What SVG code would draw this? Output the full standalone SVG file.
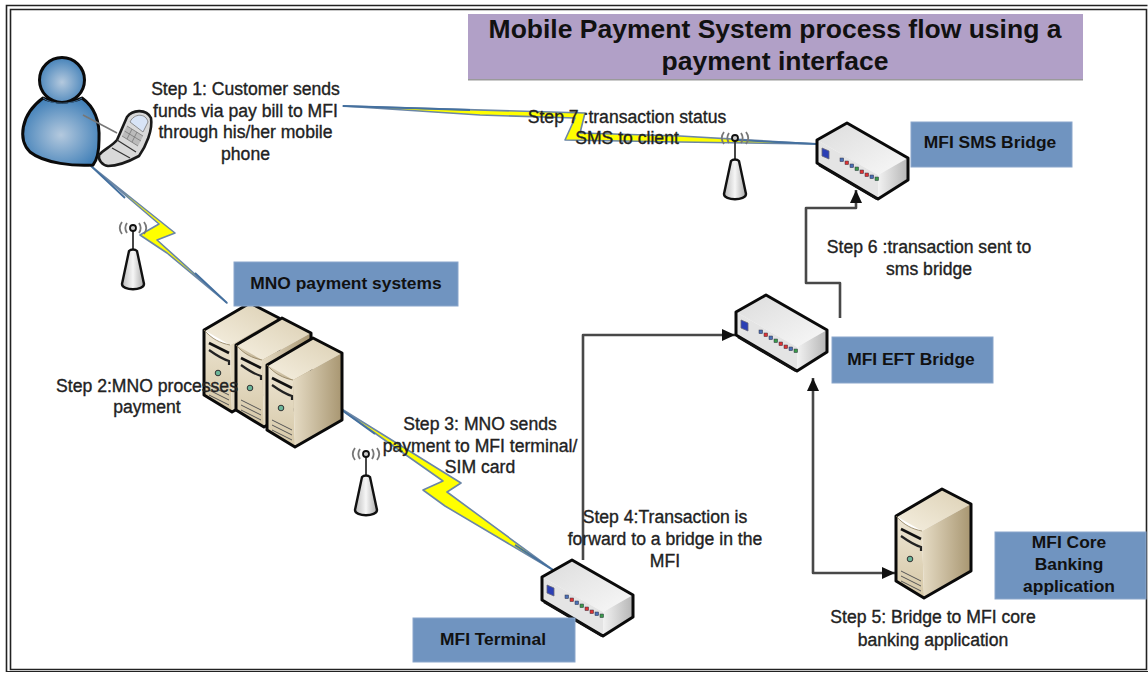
<svg xmlns="http://www.w3.org/2000/svg" width="1148" height="673" viewBox="0 0 1148 673">
<style>
text{font-family:"Liberation Sans",Arial,sans-serif}
.step{font-size:17.6px;fill:#222;text-anchor:middle;stroke:#222;stroke-width:.35}
.lab{font-size:17.4px;font-weight:bold;fill:#111;text-anchor:middle}
.box{fill:#7094c0;stroke:#8aa6cb;stroke-width:1}
.wire{fill:none;stroke:#484848;stroke-width:2.6;stroke-linejoin:round}
.bolt{fill:#ffff00;stroke:#6b86a6;stroke-width:1.6;stroke-linejoin:round}
.ol{stroke:#0a0a0a;stroke-width:3;stroke-linejoin:round}
</style>
<defs>
<marker id="arrow" markerUnits="userSpaceOnUse" markerWidth="14" markerHeight="12" refX="13" refY="6" orient="auto"><path d="M0 0L13 6L0 12Z" fill="#111"/></marker>
<radialGradient id="blueG" cx=".5" cy=".55" r=".6"><stop offset="0" stop-color="#b4c9de"/><stop offset="1" stop-color="#3b7cb6"/></radialGradient>
<linearGradient id="srvFront" x1="0" y1="0" x2="0" y2="1"><stop offset="0" stop-color="#eee6d4"/><stop offset="1" stop-color="#d5c7a6"/></linearGradient>
<linearGradient id="srvSide" x1="0" y1="0" x2="1" y2="0"><stop offset="0" stop-color="#e6dcc5"/><stop offset="1" stop-color="#a89671"/></linearGradient>
<linearGradient id="srvTop" x1="0" y1="1" x2="1" y2="0"><stop offset="0" stop-color="#f5efe0"/><stop offset="1" stop-color="#dcd0b4"/></linearGradient>
<linearGradient id="swTop" x1="0" y1="0" x2="1" y2="1"><stop offset="0" stop-color="#dcdcdc"/><stop offset="1" stop-color="#f8f8f8"/></linearGradient>
<linearGradient id="swSide" x1="0" y1="0" x2="1" y2="0"><stop offset="0" stop-color="#f2f2f2"/><stop offset="1" stop-color="#b5b5b5"/></linearGradient>
<linearGradient id="antG" x1="0" y1="0" x2="1" y2="0"><stop offset="0" stop-color="#bbb"/><stop offset=".5" stop-color="#f6f6f6"/><stop offset="1" stop-color="#aaa"/></linearGradient>
<g id="server">
<path d="M0 27L46 0L75 15L26 42Z" fill="url(#srvTop)"/>
<path d="M0 27C8 36 16 40 26 42L28 109L2 94L0 92Z" fill="url(#srvFront)"/>
<path d="M26 42L75 15L75 82L28 109Z" fill="url(#srvSide)"/>
<path d="M0 27L46 0L75 15L75 82L28 109L0 92Z" fill="none" class="ol"/>
<path d="M0 27C8 36 16 40 26 42" fill="none" stroke="#8a7a58" stroke-width=".8"/>
<path d="M5 40L25 50" stroke="#111" stroke-width="2.6"/>
<path d="M5 47C12 52 18 56 25 58L25 62" fill="none" stroke="#222" stroke-width="2.2"/>
<circle cx="14" cy="70" r="2.8" fill="#6cb69a" stroke="#333" stroke-width="1"/>
<path d="M5 82L25 92M5 87L25 97M5 92L25 102" stroke="#555" stroke-width="1"/>
</g>
<g id="switch">
<path d="M0 17L30 0L91 35L61 52Z" fill="url(#swTop)"/>
<path d="M0 17L61 52L61 76L0 40Z" fill="#e4e4e4"/>
<path d="M61 52L91 35L91 57L61 76Z" fill="url(#swSide)"/>
<path d="M0 17L30 0L91 35L91 57L61 76L0 40Z" fill="none" class="ol"/>
<path d="M2 42L60 76" stroke="#111" stroke-width="2.5"/>
<path d="M5 25L12 28L12 36L5 33Z" fill="#2b3fb5" stroke="#667" stroke-width=".8"/>
<g stroke="#334" stroke-width=".5"><rect x="23" y="35" width="3.6" height="3.6" fill="#4a6fb5"/><rect x="28" y="38" width="3.6" height="3.6" fill="#d33"/><rect x="33" y="41" width="3.6" height="3.6" fill="#4a6fb5"/><rect x="38" y="44" width="3.6" height="3.6" fill="#3b9a4a"/><rect x="43" y="47" width="3.6" height="3.6" fill="#d33"/><rect x="48" y="50" width="3.6" height="3.6" fill="#d33"/><rect x="53" y="52" width="3.6" height="3.6" fill="#4a6fb5"/><rect x="58" y="54" width="3.6" height="3.6" fill="#3b9a4a"/></g>
</g>
<g id="antenna">
<path d="M0 0V24" stroke="#333" stroke-width="1.8"/>
<circle cx="0" cy="0" r="3" fill="#ccc" stroke="#111" stroke-width="1.8"/>
<path d="M-6 -5C-8 -2 -8 2 -6 5M6 -5C8 -2 8 2 6 5M-11 -6C-14 -2 -14 2 -11 6M11 -6C14 -2 14 2 11 6" fill="none" stroke="#777" stroke-width="1.8"/>
<path d="M-4 23C-2 21 2 21 4 23L11 56C11 63 -11 63 -11 56Z" fill="url(#antG)" stroke="#111" stroke-width="2.4"/>
</g>
</defs>
<rect width="1148" height="673" fill="#fff"/>
<g id="frame" fill="none" stroke="#222">
<path d="M6.5 672V5.5H1147.5" stroke-width="1.6"/>
<path d="M10.5 669.5V9.5H1146.5V669.5Z" stroke-width="1.6"/>
<path d="M6 671.5H1148" stroke-width="1"/>
</g>
<g id="title"><rect x="468" y="14" width="615" height="66" fill="#b1a0c7"/><rect x="468" y="79" width="615" height="1.5" fill="#9a9a9a"/>
<text x="775" y="38" text-anchor="middle" font-size="26.5" font-weight="bold" fill="#111">Mobile Payment System process flow using a</text>
<text x="775" y="70" text-anchor="middle" font-size="26.5" font-weight="bold" fill="#111">payment interface</text></g>
<g id="connectors">
<path class="bolt" d="M90 165L175 233L157 240L227 303L167 253L140 235L159 224Z"/>
<path class="bolt" d="M332 403L461 483L447 492L553 570L445 506L423 490L443 481Z"/>
<path class="bolt" d="M343 106L585 113L580 133L680 136L817 144L680 142L565 140L575 118L480 115Z"/>
<path d="M90 165L125 198M343 106L470 110M735 140L817 144M332 403L375 434M515 545L553 570M195 273L227 303" fill="none" stroke="#44709f" stroke-width="1.8"/>
<path class="wire" d="M583 560V335H735" marker-end="url(#arrow)"/>
<path class="wire" d="M840 318V283H806V208H856V190" marker-end="url(#arrow)"/>
<path class="wire" d="M813 378V573H895" marker-end="url(#arrow)"/>
<path d="M813 378l-6 13h12Z" fill="#111"/>
</g>
<g id="antenna1"><use href="#antenna" x="133" y="228"/></g>
<g id="antenna2"><use href="#antenna" x="366" y="454"/></g>
<g id="antenna3"><use href="#antenna" x="735" y="138"/></g>
<g id="customer">
<path d="M30 152C18 140 20 115 43 98C52 103 72 103 82 98C96 108 100 122 99 140C99 150 97 160 93 165C75 166 45 164 30 152Z" fill="url(#blueG)" stroke="#0a0a0a" stroke-width="3" stroke-linejoin="round"/>
<circle cx="62" cy="80" r="22.5" fill="url(#blueG)" stroke="#0a0a0a" stroke-width="3"/>
<path d="M43 98C52 105 72 105 82 98" fill="none" stroke="#3a6a96" stroke-width="1"/>
<path d="M83 115L117 133" stroke="#777" stroke-width="1.5"/>
<path d="M99 155C103 150 112 146 117 140L127 117C132 110 146 108 151 118C153 130 146 146 139 156C128 162 118 166 108 166C102 165 98 160 99 155Z" fill="#d9d9d9" stroke="#1a1a1a" stroke-width="2.6" stroke-linejoin="round"/>
<path d="M130 122C134 113 146 113 148 122L143 132Z" fill="#d8e4f6" stroke="#777" stroke-width=".8"/>
<path d="M127 126L143 136L138 146L122 136Z" fill="#bbb"/>
<path d="M127 126L143 136M124.500 131L141 141M122 136L138 146M132 129L127 139M137 132L132 142" stroke="#777" stroke-width=".8"/>
<path d="M112 148L130 158M117 140L136 152" stroke="#333" stroke-width="1.2"/>
</g>
<g id="mno-servers">
<use href="#server" x="204" y="303"/>
<use href="#server" x="236" y="318"/>
<use href="#server" x="267" y="338"/>
</g>
<g id="core-server"><use href="#server" x="896" y="489"/></g>
<g id="terminal"><use href="#switch" x="542" y="560"/></g>
<g id="eft-bridge"><use href="#switch" x="736" y="295"/></g>
<g id="sms-bridge"><use href="#switch" x="817" y="123"/></g>
<g id="label-mno"><rect class="box" x="234" y="262" width="224" height="44"/><text class="lab" x="346" y="289">MNO payment systems</text></g>
<g id="label-sms"><rect class="box" x="911" y="122" width="161" height="45"/><text class="lab" x="990" y="148">MFI SMS Bridge</text></g>
<g id="label-eft"><rect class="box" x="832" y="337" width="161" height="46"/><text class="lab" x="911" y="365">MFI EFT Bridge</text></g>
<g id="label-terminal"><rect class="box" x="413" y="618" width="162" height="44"/><text class="lab" x="493" y="645">MFI Terminal</text></g>
<g id="label-core"><rect class="box" x="995" y="532" width="151" height="67"/><text class="lab" x="1069" y="548">MFI Core</text><text class="lab" x="1069" y="570">Banking</text><text class="lab" x="1069" y="592">application</text></g>
<g id="steps">
<text class="step" x="245.5" y="95">Step 1: Customer sends</text>
<text class="step" x="245.5" y="117">funds via pay bill to MFI</text>
<text class="step" x="245.5" y="138">through his/her mobile</text>
<text class="step" x="245.5" y="160">phone</text>
<text class="step" x="147" y="392">Step 2:MNO processes</text>
<text class="step" x="147" y="413">payment</text>
<text class="step" x="480" y="430">Step 3: MNO sends</text>
<text class="step" x="480" y="452">payment to MFI terminal/</text>
<text class="step" x="480" y="473">SIM card</text>
<text class="step" x="665" y="523">Step 4:Transaction is</text>
<text class="step" x="665" y="545">forward to a bridge in the</text>
<text class="step" x="665" y="567">MFI</text>
<text class="step" x="933" y="623">Step 5: Bridge to MFI core</text>
<text class="step" x="933" y="646">banking application</text>
<text class="step" x="929" y="253">Step 6 :transaction sent to</text>
<text class="step" x="929" y="275">sms bridge</text>
<text class="step" x="627" y="123">Step 7 :transaction status</text>
<text class="step" x="627" y="144">SMS to client</text>
</g>
</svg>
